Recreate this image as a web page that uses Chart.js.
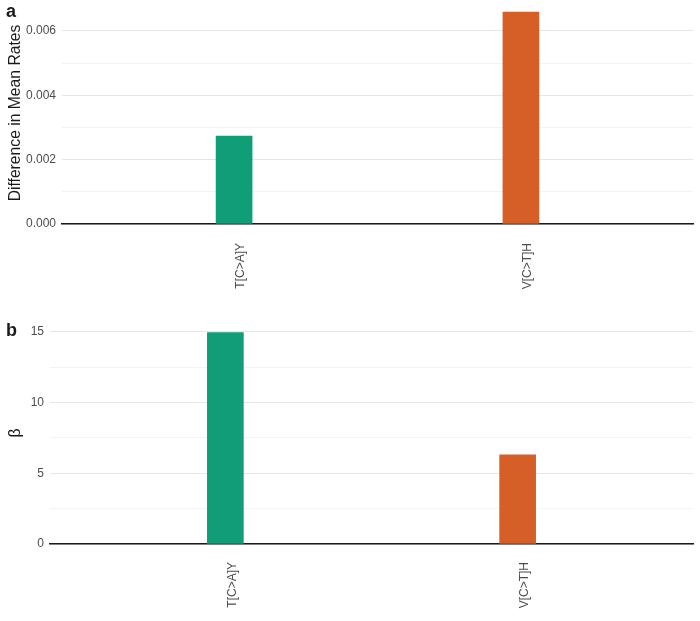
<!DOCTYPE html>
<html>
<head>
<meta charset="utf-8">
<script src="https://cdn.jsdelivr.net/npm/chart.js@4/dist/chart.umd.min.js"></script>
<style>
  html, body { margin: 0; padding: 0; background: #fff; }
  #wrap { position: relative; width: 700px; height: 621px; }
  .panel { position: absolute; left: 0; width: 700px; }
  .tag { position: absolute; left: 6px; font: bold 18px "Liberation Sans", Arial, sans-serif; color: #1a1a1a; }
</style>
</head>
<body>
<div id="wrap">
  <div class="panel" style="top:0;height:310px"><canvas id="chartA" width="700" height="310"></canvas></div>
  <div class="panel" style="top:310px;height:311px"><canvas id="chartB" width="700" height="311"></canvas></div>
  <div class="tag" style="top:1px">a</div>
  <div class="tag" style="top:320px">b</div>
</div>
<script>
// datos
const categorias = ['T[C>A]Y', 'V[C>T]H'];
const posiciones = [1, 2];
const difMedias = [0.00273, 0.00659];
const betas = [14.95, 6.3];
const colores = ['#0f9e75', '#d55f27'];

const fuente = '"Liberation Sans", Arial, sans-serif';

const crearPanel = (id, valores, cfg) => {
  const ctx = document.getElementById(id).getContext('2d');
  return new Chart(ctx, {
    type: 'bar',
    data: {
      datasets: [{
        data: valores.map((v, i) => ({ x: posiciones[i], y: v })),
        backgroundColor: colores,
        borderWidth: 0,
        barThickness: 36
      }]
    },
    options: {
      responsive: false,
      animation: false,
      layout: { padding: { top: cfg.padTop, right: 7, left: 0, bottom: 0 } },
      plugins: { legend: { display: false }, tooltip: { enabled: false } },
      scales: {
        x: {
          type: 'linear',
          min: 0.4,
          max: 2.6,
          offset: false,
          afterBuildTicks: s => { s.ticks = posiciones.map(p => ({ value: p })); },
          afterFit: s => { s.height = cfg.xHeight; },
          grid: { display: false },
          border: { display: true, color: '#1a1a1a', width: 1.5 },
          ticks: {
            autoSkip: false,
            minRotation: 90,
            maxRotation: 90,
            padding: cfg.xPad,
            labelOffset: 7,
            color: '#4d4d4d',
            font: { family: fuente, size: 12 },
            callback: v => categorias[posiciones.indexOf(v)] || ''
          }
        },
        y: {
          min: 0,
          max: cfg.max,
          // quitar el relleno extra que Chart.js añade por las etiquetas
          afterFit: s => { s.width = cfg.yWidth; s.paddingTop = 0; s.paddingBottom = 0; },
          border: { display: false },
          grid: {
            drawTicks: false,
            color: c => (c.index % 2 === 0 ? '#e6e6e6' : '#f3f3f3'),
            lineWidth: 1
          },
          ticks: {
            stepSize: cfg.step,
            includeBounds: false,
            autoSkip: false,
            padding: 6,
            color: '#4d4d4d',
            font: { family: fuente, size: 12 },
            callback: cfg.etiqueta
          },
          title: {
            display: true,
            text: cfg.titulo,
            color: '#1a1a1a',
            padding: { top: 6, bottom: 0 },
            font: { family: fuente, size: 15.7 }
          }
        }
      }
    }
  });
};

crearPanel('chartA', difMedias, {
  max: 0.0069, step: 0.001, padTop: 2, xHeight: 86, yWidth: 62, xPad: 11,
  titulo: 'Difference in Mean Rates',
  etiqueta: v => (Math.round(v * 1000) % 2 === 0 ? v.toFixed(3) : '')
});

crearPanel('chartB', betas, {
  max: 15.7, step: 2.5, padTop: 12, xHeight: 77, yWidth: 50, xPad: 10,
  titulo: 'β',
  etiqueta: v => (Math.round(v * 2) % 2 === 0 ? String(Math.round(v)) : '')
});
</script>
</body>
</html>
